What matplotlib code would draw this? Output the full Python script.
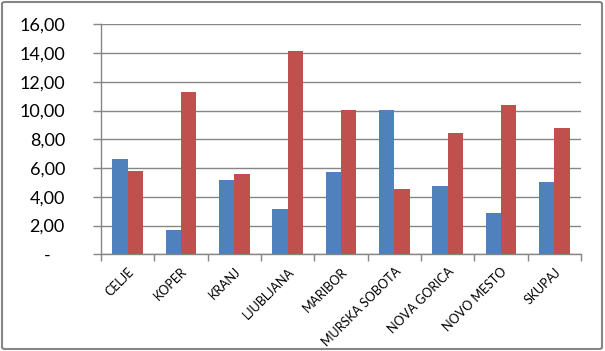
import matplotlib
matplotlib.use("Agg")
import matplotlib.pyplot as plt
import matplotlib.transforms as mtransforms
import numpy as np
from matplotlib.patches import FancyBboxPatch

# podatki
kraji = ["CELJE", "KOPER", "KRANJ", "LJUBLJANA", "MARIBOR",
         "MURSKA SOBOTA", "NOVA GORICA", "NOVO MESTO", "SKUPAJ"]
modra = [6.62, 1.67, 5.15, 3.13, 5.71, 10.03, 4.74, 2.86, 5.01]
rdeca = [5.78, 11.28, 5.57, 14.14, 10.03, 4.53, 8.43, 10.38, 8.77]
y_ticks = [0, 2, 4, 6, 8, 10, 12, 14, 16]
y_labels = ["-\u00a0\u00a0\u00a0", "2,00", "4,00", "6,00", "8,00",
            "10,00", "12,00", "14,00", "16,00"]

grid_col = "#868686"
plt.rcParams["font.family"] = ["Lato", "DejaVu Sans"]

fig = plt.figure(figsize=(6.05, 3.51), dpi=100)
ax = fig.add_axes([101 / 605, 1 - 254.3 / 351, 480 / 605, 230 / 351])

x = np.arange(len(kraji))
w = 1 / 3.5
ax.bar(x - w / 2, modra, width=w, color="#4f81bd", zorder=3)
ax.bar(x + w / 2, rdeca, width=w, color="#c0504d", zorder=3)

ax.set_xlim(-0.5, len(kraji) - 0.5)
ax.set_ylim(0, 16)
ax.set_yticks(y_ticks)
ax.set_yticklabels(y_labels, fontsize=13)
ax.yaxis.grid(True, color=grid_col, linewidth=1.0, zorder=0)

# kljukice med kategorijami
ax.set_xticks(np.arange(len(kraji) + 1) - 0.5)
ax.set_xticklabels([])
ax.set_xticks(x, minor=True)
ax.set_xticklabels(kraji, minor=True, rotation=45, ha="right", va="top",
                   rotation_mode="anchor", fontsize=9)
premik = mtransforms.ScaledTranslation(4 / 100, 0, fig.dpi_scale_trans)
for lbl in ax.get_xticklabels(minor=True):
    lbl.set_transform(lbl.get_transform() + premik)
ax.tick_params(axis="x", which="minor", length=0, pad=8)
ax.tick_params(axis="x", which="major", length=5, color=grid_col, width=1.0)
ax.tick_params(axis="y", length=6, color=grid_col, width=1.0, pad=20)

for s in ["top", "right"]:
    ax.spines[s].set_visible(False)
for s in ["left", "bottom"]:
    ax.spines[s].set_color(grid_col)
    ax.spines[s].set_linewidth(1.0)

# okvir grafa
okvir = FancyBboxPatch((2 / 605, 2 / 351), 600 / 605, 347 / 351,
                       boxstyle="round,pad=0,rounding_size=0.005",
                       transform=fig.transFigure, fill=False,
                       edgecolor="#868686", linewidth=1.5)
fig.patches.append(okvir)

fig.savefig("out.png", dpi=100)
